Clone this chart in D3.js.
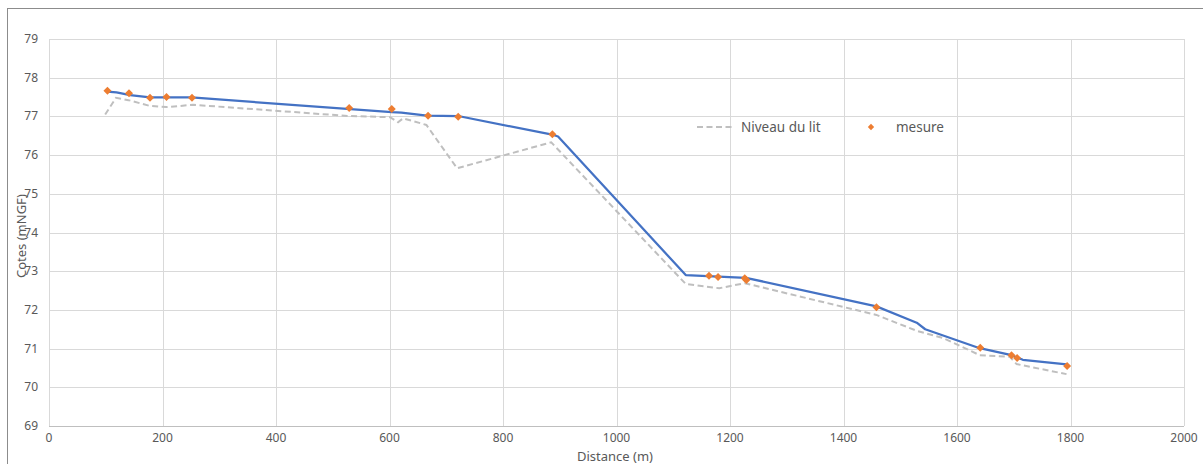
<!DOCTYPE html>
<html>
<head>
<meta charset="utf-8">
<script src="https://cdn.jsdelivr.net/npm/d3@7"></script>
<style>
  body { margin: 0; background: #fff; }
  svg { display: block; font-family: 'Noto Sans', sans-serif; }
  .tick-label { fill: #595959; font-size: 12px; }
  .legend-label { fill: #595959; font-size: 13.5px; }
  .axis-title { fill: #595959; font-size: 13px; }
</style>
</head>
<body>
<svg id="chart" width="1203" height="464"></svg>
<script>
// ligne d'eau (trait bleu)
const eauDist = [102, 119, 143, 178, 251, 604, 621, 666, 721, 889, 897, 1122, 1228, 1458, 1529, 1544, 1640, 1696, 1716, 1793];
const eauCote = [77.64, 77.62, 77.55, 77.49, 77.49, 77.11, 77.10, 77.02, 77.01, 76.52, 76.48, 72.90, 72.83, 72.09, 71.67, 71.50, 71.01, 70.83, 70.71, 70.59];

// Niveau du lit (tirets gris)
const litDist = [99, 118, 140, 178, 207, 254, 527, 601, 615, 624, 665, 719, 885, 1122, 1181, 1226, 1458, 1529, 1576, 1640, 1693, 1705, 1793];
const litCote = [77.05, 77.48, 77.42, 77.27, 77.24, 77.30, 77.01, 76.98, 76.85, 76.95, 76.78, 75.66, 76.33, 72.67, 72.56, 72.69, 71.87, 71.46, 71.27, 70.83, 70.79, 70.60, 70.34];

// mesure (losanges orange)
const mesureDist = [103, 141, 178, 207, 252, 529, 604, 668, 721, 887, 1163, 1179, 1226, 1229, 1458, 1641, 1696, 1706, 1794];
const mesureCote = [77.66, 77.60, 77.48, 77.50, 77.48, 77.22, 77.19, 77.02, 76.99, 76.54, 72.88, 72.85, 72.82, 72.77, 72.07, 71.02, 70.83, 70.76, 70.55];

const xTicks = [0, 200, 400, 600, 800, 1000, 1200, 1400, 1600, 1800, 2000];
const yTicks = [69, 70, 71, 72, 73, 74, 75, 76, 77, 78, 79];

const zip = (xs, ys) => xs.map((x, i) => ({ x, y: ys[i] }));

const svg = d3.select('#chart');
const x = d3.scaleLinear().domain([0, 2000]).range([49, 1184]);
const y = d3.scaleLinear().domain([69, 79]).range([426, 39]);

// cadre du graphique
svg.append('rect')
  .attr('x', 7.5).attr('y', 8.5)
  .attr('width', 1220).attr('height', 480)
  .attr('fill', 'none')
  .attr('stroke', '#8c8c8c');

// quadrillage
svg.append('g').selectAll('line.h')
  .data(yTicks.filter((t) => t !== 69))
  .enter().append('line')
  .attr('x1', x(0)).attr('x2', x(2000))
  .attr('y1', (d) => Math.round(y(d)) + 0.5)
  .attr('y2', (d) => Math.round(y(d)) + 0.5)
  .attr('stroke', '#d9d9d9');

svg.append('g').selectAll('line.v')
  .data(xTicks)
  .enter().append('line')
  .attr('x1', (d) => Math.round(x(d)) + 0.5)
  .attr('x2', (d) => Math.round(x(d)) + 0.5)
  .attr('y1', y(79)).attr('y2', y(69))
  .attr('stroke', '#d9d9d9');

// axe horizontal
svg.append('line')
  .attr('x1', x(0)).attr('x2', x(2000))
  .attr('y1', Math.round(y(69)) + 0.5).attr('y2', Math.round(y(69)) + 0.5)
  .attr('stroke', '#bfbfbf');

svg.append('g').selectAll('text')
  .data(xTicks)
  .enter().append('text')
  .attr('class', 'tick-label')
  .attr('x', (d) => x(d))
  .attr('y', y(69) + 16)
  .attr('text-anchor', 'middle')
  .text((d) => d);

svg.append('g').selectAll('text')
  .data(yTicks)
  .enter().append('text')
  .attr('class', 'tick-label')
  .attr('x', 38)
  .attr('y', (d) => y(d) + 4)
  .attr('text-anchor', 'end')
  .text((d) => d);

// titres des axes
svg.append('text')
  .attr('class', 'axis-title')
  .attr('x', 615).attr('y', 460.5)
  .attr('text-anchor', 'middle')
  .text('Distance (m)');

svg.append('text')
  .attr('class', 'axis-title')
  .attr('transform', 'translate(26, 236) rotate(-90)')
  .attr('text-anchor', 'middle')
  .text('Cotes (mNGF)');

// séries
const line = d3.line().x((d) => x(d.x)).y((d) => y(d.y));

svg.append('path')
  .datum(zip(litDist, litCote))
  .attr('d', line)
  .attr('fill', 'none')
  .attr('stroke', '#bfbfbf')
  .attr('stroke-width', 2)
  .attr('stroke-dasharray', '6,3.5');

svg.append('path')
  .datum(zip(eauDist, eauCote))
  .attr('d', line)
  .attr('fill', 'none')
  .attr('stroke', '#4472c4')
  .attr('stroke-width', 2.25)
  .attr('stroke-linejoin', 'round');

const diamond = d3.symbol().type(d3.symbolSquare).size(32);

svg.append('g').selectAll('path')
  .data(zip(mesureDist, mesureCote))
  .enter().append('path')
  .attr('d', diamond)
  .attr('transform', (d) => `translate(${x(d.x)},${y(d.y)}) rotate(45)`)
  .attr('fill', '#ed7d31');

// légende
const legend = svg.append('g').attr('transform', 'translate(697, 127)');
legend.append('line')
  .attr('x1', 0).attr('x2', 38)
  .attr('stroke', '#bfbfbf')
  .attr('stroke-width', 2)
  .attr('stroke-dasharray', '6,3.5');
legend.append('text')
  .attr('class', 'legend-label')
  .attr('x', 44).attr('y', 5)
  .text('Niveau du lit');
legend.append('path')
  .attr('d', d3.symbol().type(d3.symbolSquare).size(20))
  .attr('transform', 'translate(174,0) rotate(45)')
  .attr('fill', '#ed7d31');
legend.append('text')
  .attr('class', 'legend-label')
  .attr('x', 199).attr('y', 5)
  .text('mesure');
</script>
</body>
</html>
